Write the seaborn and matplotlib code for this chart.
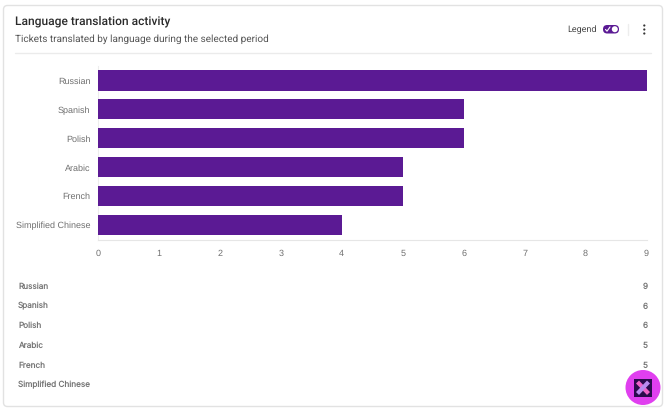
import matplotlib
matplotlib.use("Agg")
import matplotlib.pyplot as plt
import pandas as pd
import seaborn as sns
from matplotlib.patches import Circle, FancyBboxPatch, Rectangle

languages = ["Russian", "Spanish", "Polish", "Arabic", "French", "Simplified Chinese"]
tickets = [9, 6, 6, 5, 5, 4]
x_ticks = [0, 1, 2, 3, 4, 5, 6, 7, 8, 9]

title = "Language translation activity"
subtitle = "Tickets translated by language during the selected period"

PURPLE = "#5B1A94"
W, H = 670, 416

sns.set_theme(style="white")
plt.rcParams["font.family"] = ["Liberation Sans", "DejaVu Sans"]
plt.rcParams["text.hinting"] = "none"
plt.rcParams["text.hinting_factor"] = 1

fig = plt.figure(figsize=(W / 100, H / 100), dpi=100, facecolor="white")

# Card furniture sits in a pixel-addressed layer behind the chart
back = fig.add_axes([0, 0, 1, 1], zorder=0)
back.set_xlim(0, W)
back.set_ylim(H, 0)
back.axis("off")
back.add_patch(FancyBboxPatch((3.5, 5.5), 659, 401, boxstyle="round,pad=0,rounding_size=4",
                              fc="white", ec="#E2E2E2", lw=1))
back.plot([15, 651], [52.5, 52.5], color="#EBEBEB", lw=1)
back.text(15, 21.5, title, fontsize=8.3, family="Roboto", weight="medium", color="#2B2B2B", va="center")
back.text(15, 39, subtitle, fontsize=7.15, family="Roboto", color="#555555", va="center")

# Legend switch and overflow menu
back.text(597, 30, "Legend", fontsize=6.4, family="Roboto", color="#4A4A4A", va="center", ha="right")
back.add_patch(FancyBboxPatch((603, 25), 16, 8.5, boxstyle="round,pad=0,rounding_size=4.2",
                              fc=PURPLE, ec="none"))
back.add_patch(Circle((614.8, 29.2), 3, fc="white", ec="none"))
back.plot([605.5, 607, 610], [29.5, 31.2, 27], color="white", lw=0.8)
back.plot([628, 628], [24, 35], color="#EDEDED", lw=1)
for dot_y in (25.5, 29.5, 33.5):
    back.add_patch(Circle((644.3, dot_y), 1.1, fc="#333333", ec="none"))

# Horizontal bar chart
ax = fig.add_axes([98 / W, 1 - 239.5 / H, (646.5 - 98) / W, (239.5 - 66) / H], zorder=1)
ax.patch.set_alpha(0)
frame = pd.DataFrame({"language": languages, "tickets": tickets})
sns.barplot(data=frame, x="tickets", y="language", order=languages, color=PURPLE,
            saturation=1, width=0.7, linewidth=0, ax=ax)
ax.set_xlim(0, 9)
ax.set_ylim(len(languages) - 0.5, -0.5)
ax.set_xlabel("")
ax.set_ylabel("")
ax.set_xticks(x_ticks)
ax.tick_params(axis="both", length=0, labelsize=6.2, labelcolor="#707070")
ax.tick_params(axis="x", pad=7)
ax.tick_params(axis="y", pad=5.5)
for side in ("top", "right"):
    ax.spines[side].set_visible(False)
ax.spines["left"].set_color("#EDEDED")
ax.spines["bottom"].set_color("#E6E6E6")
ax.spines["left"].set_linewidth(0.8)
ax.spines["bottom"].set_linewidth(0.8)
ax.spines["left"].set_zorder(0.5)

# Value table under the chart, with the floating help button on top
front = fig.add_axes([0, 0, 1, 1], zorder=2)
front.set_xlim(0, W)
front.set_ylim(H, 0)
front.axis("off")
front.patch.set_alpha(0)
for i, (language, value) in enumerate(zip(languages, tickets)):
    row_y = 286.5 + i * 19.75
    front.text(18, row_y, language, fontsize=5.9, family="Inter", color="#757575", va="center")
    front.text(648, row_y, str(value), fontsize=5.9, family="Inter", color="#757575", va="center", ha="right")

front.add_patch(Circle((643, 387.5), 17.5, fc="#E03FEF", ec="none", zorder=5))
front.add_patch(Rectangle((634, 379), 18, 17.5, fc="#2A0B4D", ec="none", zorder=6))
front.plot([637.5, 648.5], [382, 393.5], color="#F062C8", lw=3, solid_capstyle="butt", zorder=7)
front.plot([648.5, 637.5], [382, 393.5], color="#B98BEF", lw=3, solid_capstyle="butt", zorder=7)

fig.savefig("out.png", dpi=100, facecolor="white")
